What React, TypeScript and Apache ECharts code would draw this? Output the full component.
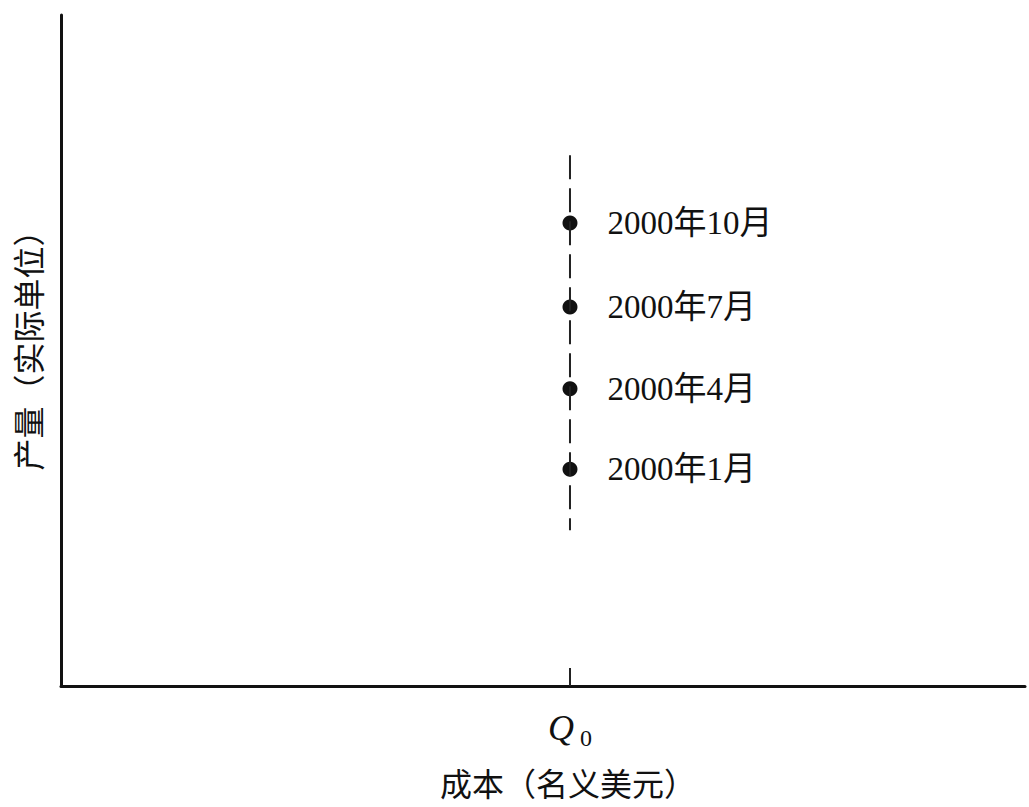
import React, { useEffect, useRef } from "react";
import * as echarts from "echarts";

const Q0 = 52.8;
const pointLabels = ["2000年10月", "2000年7月", "2000年4月", "2000年1月"];
const pointValues = [69.0, 56.5, 44.3, 32.3];
const dashRange = [79.1, 23.2];
const xName = "成本（名义美元）";
const yName = "产量（实际单位）";

const SERIF = "'Liberation Serif', 'Noto Sans CJK SC', serif";
const CJK = "'Noto Sans CJK SC', 'Liberation Serif', serif";

export default function App() {
  const ref = useRef<HTMLDivElement>(null);
  useEffect(() => {
    if (!ref.current) return;
    const chart = echarts.init(ref.current, undefined, { renderer: "svg" });
    chart.setOption({
      animation: false,
      backgroundColor: "#ffffff",
      grid: { left: 61, right: 4, top: 15, bottom: 121, containLabel: false },
      xAxis: {
        type: "value",
        min: 0,
        max: 100,
        splitLine: { show: false },
        axisLine: { show: true, lineStyle: { color: "#111", width: 3 } },
        axisTick: {
          show: true,
          inside: true,
          length: 18,
          customValues: [Q0],
          lineStyle: { color: "#222", width: 2 },
        },
        axisLabel: {
          show: true,
          customValues: [Q0],
          margin: 24,
          formatter: () => "{q|Q}{s| 0}",
          rich: {
            q: { fontFamily: SERIF, fontStyle: "italic", fontSize: 36, color: "#111" },
            s: { fontFamily: SERIF, fontSize: 24, color: "#111", verticalAlign: "bottom", padding: [0, 0, -4, 0] },
          },
        },
        name: xName,
        nameLocation: "middle",
        nameGap: 80,
        nameTextStyle: { fontFamily: CJK, fontSize: 32, color: "#111", padding: [0, 0, 0, 50] },
      },
      yAxis: {
        type: "value",
        min: 0,
        max: 100,
        splitLine: { show: false },
        axisLine: { show: true, lineStyle: { color: "#111", width: 3 } },
        axisTick: { show: false },
        axisLabel: { show: false },
        name: yName,
        nameLocation: "middle",
        nameRotate: 90,
        nameGap: 18,
        nameTextStyle: { fontFamily: CJK, fontSize: 32, color: "#111", padding: [0, 0, 0, 16] },
      },
      series: [
        {
          type: "line",
          data: [
            [Q0, dashRange[0]],
            [Q0, dashRange[1]],
          ],
          symbol: "none",
          lineStyle: { color: "#222", width: 2, type: [24, 9] },
          silent: true,
        },
        {
          type: "scatter",
          data: pointValues.map((v, i) => ({ value: [Q0, v], name: pointLabels[i] })),
          symbol: "circle",
          symbolSize: 15,
          itemStyle: { color: "#111", opacity: 1 },
          label: {
            show: true,
            position: "right",
            distance: 30,
            formatter: (p: any) => p.name,
            fontFamily: SERIF,
            fontSize: 33,
            color: "#111",
          },
        },
      ],
    });
    return () => chart.dispose();
  }, []);
  return <div ref={ref} style={{ width: 1029, height: 807, position: "absolute", left: 0, top: 0 }} />;
}
